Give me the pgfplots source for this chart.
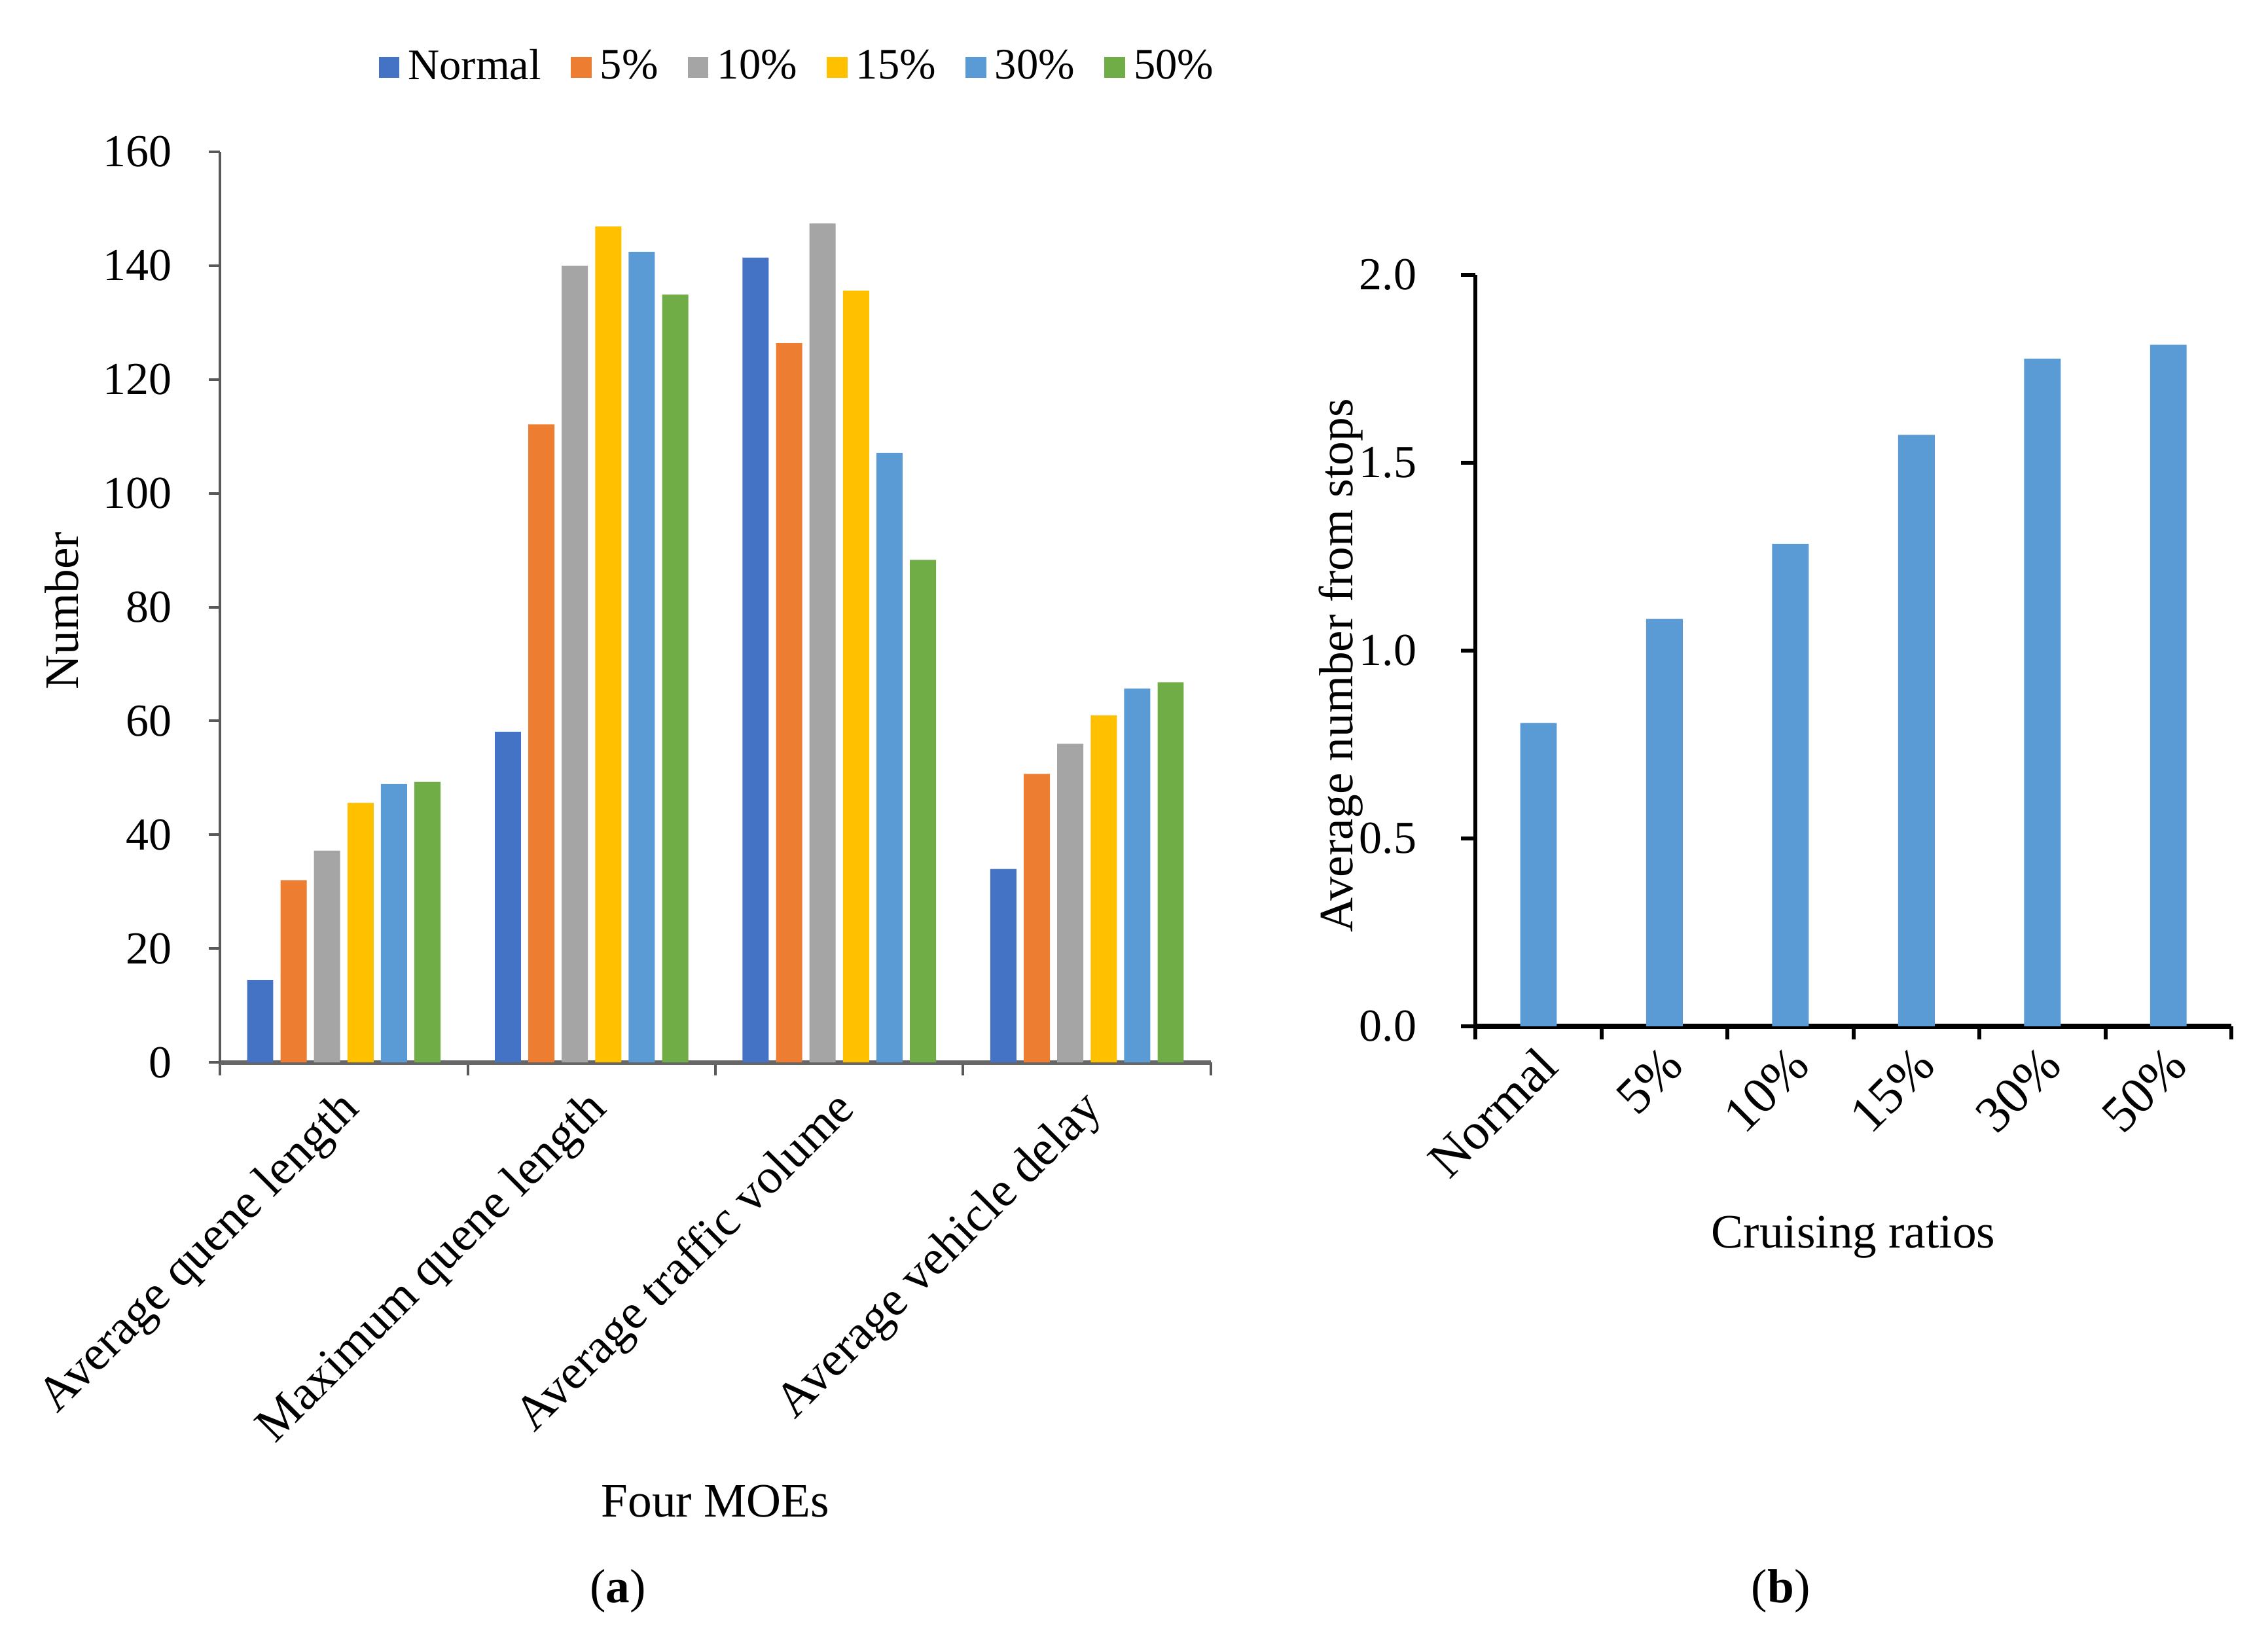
\documentclass[border=0pt]{standalone}
\usepackage{fontspec}
\setmainfont{Liberation Serif}
\usepackage{pgfplots}
\pgfplotsset{compat=1.18}

\definecolor{cNormal}{HTML}{4472C4}
\definecolor{cFive}{HTML}{ED7D31}
\definecolor{cTen}{HTML}{A5A5A5}
\definecolor{cFifteen}{HTML}{FFC000}
\definecolor{cThirty}{HTML}{5B9BD5}
\definecolor{cFifty}{HTML}{70AD47}

\pgfplotsset{
  common/.style={
    scale only axis, enlargelimits=false,
    axis x line*=bottom, axis y line*=left,
    tick align=outside,
    /pgf/number format/assume math mode=true,
    tick label style={font=\fontsize{10.5}{12}\selectfont},
    label style={font=\fontsize{11}{13}\selectfont},
    major x tick style={draw=none},
    minor tick length=3pt,
  },
}

\begin{document}
\begin{tikzpicture}
\useasboundingbox (0,0) rectangle (520pt,375.3pt);

% (a) four MOEs
\begin{axis}[common,
  at={(50.43pt,131.7pt)}, anchor=south west,
  width=227.2pt, height=208.8pt,
  ybar=1.67pt, bar width=6pt,
  xmin=-0.5, xmax=3.5, ymin=0, ymax=160,
  ytick={0,20,...,160}, major tick length=2.5pt,
  xtick={0,1,2,3},
  xticklabels={Average quene length,Maximum quene length,Average traffic volume,Average vehicle delay},
  minor xtick={-0.5,0.5,1.5,2.5,3.5},
  x tick label style={xshift=-1.7pt, yshift=-2.8pt, rotate=45, anchor=north east, inner sep=0pt,
    font=\fontsize{11.3}{13}\selectfont},
  yticklabel style={xshift=-5pt},
  x axis line style={draw=black!60, line width=1pt},
  y axis line style={draw=black!65, line width=0.6pt},
  every tick/.style={black!65, line width=0.6pt},
  xlabel={Four MOEs}, ylabel={Number},
  xlabel style={at={(axis description cs:0.5,-0.482)}, anchor=center},
  ylabel style={at={(axis description cs:-0.1596,0.496)}, anchor=center},
  legend columns=6,
  legend style={draw=none, at={(axis description cs:0.1595,1.0925)}, anchor=west,
    inner sep=0pt, font=\fontsize{10}{12}\selectfont,
    nodes={inner sep=0pt},
    /tikz/every odd column/.append style={column sep=2pt},
    /tikz/every even column/.append style={column sep=6.8pt}},
  legend image code/.code={\fill[#1] (0pt,-2.4pt) rectangle (4.7pt,2.4pt);},
]
\addplot[fill=cNormal, draw=none] coordinates {(0,14.5) (1,58.1) (2,141.4) (3,34.0)};
\addplot[fill=cFive, draw=none] coordinates {(0,32.0) (1,112.1) (2,126.4) (3,50.7)};
\addplot[fill=cTen, draw=none] coordinates {(0,37.2) (1,140.0) (2,147.4) (3,56.0)};
\addplot[fill=cFifteen, draw=none] coordinates {(0,45.6) (1,146.9) (2,135.6) (3,61.0)};
\addplot[fill=cThirty, draw=none] coordinates {(0,48.9) (1,142.4) (2,107.1) (3,65.7)};
\addplot[fill=cFifty, draw=none] coordinates {(0,49.3) (1,134.9) (2,88.3) (3,66.8)};
\legend{Normal,5\%,10\%,15\%,30\%,50\%}
\end{axis}

% (b) stops
\begin{axis}[common,
  at={(338.3pt,140pt)}, anchor=south west,
  width=173.3pt, height=172.3pt,
  ybar, bar width=8.4pt,
  xmin=-0.5, xmax=5.5, ymin=0, ymax=2,
  ytick={0,0.5,...,2}, major tick length=3.3pt,
  yticklabel style={xshift=-6.7pt, /pgf/number format/fixed, /pgf/number format/fixed zerofill, /pgf/number format/precision=1},
  xtick={0,...,5},
  xticklabels={Normal,5\%,10\%,15\%,30\%,50\%},
  minor xtick={-0.5,0.5,...,5.5},
  x tick label style={xshift=-0.7pt, yshift=-0.5pt, rotate=45, anchor=north east, inner sep=0pt,
    font=\fontsize{11.8}{14}\selectfont},
  x axis line style={draw=black, line width=1.2pt},
  y axis line style={draw=black, line width=0.9pt},
  every tick/.style={black, line width=0.9pt},
  xlabel={Cruising ratios}, ylabel={Average number from stops},
  xlabel style={at={(axis description cs:0.5,-0.281)}, anchor=center},
  ylabel style={at={(axis description cs:-0.178,0.48)}, anchor=center},
]
\addplot[fill=cThirty, draw=none] coordinates {(0,0.807) (1,1.084) (2,1.284) (3,1.574) (4,1.777) (5,1.814)};
\end{axis}

\node[font=\fontsize{11}{13}\selectfont] at (141.7pt,10.5pt) {(\textbf{a})};
\node[font=\fontsize{11}{13}\selectfont] at (408.3pt,10.5pt) {(\textbf{b})};
\end{tikzpicture}
\end{document}
